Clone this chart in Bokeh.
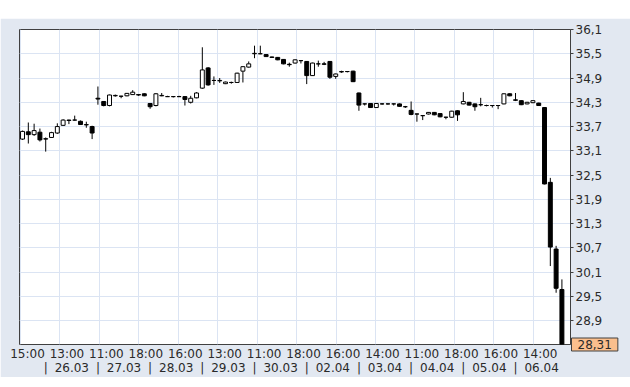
from bokeh.plotting import figure
from bokeh.models import (LinearAxis, FixedTicker, CustomJSTickFormatter, Label,
                          Spacer, Range1d, ColumnDataSource)
from bokeh.layouts import column
from bokeh.embed import file_html
from bokeh.resources import INLINE

# ---------------- data ----------------
time_labels = ["15:00", "13:00", "11:00", "18:00", "16:00", "13:00", "11:00",
               "18:00", "16:00", "14:00", "11:00", "18:00", "16:00", "14:00"]
date_labels = ["26.03", "27.03", "28.03", "29.03", "30.03",
               "02.04", "03.04", "04.04", "05.04", "06.04"]
y_ticks = [28.9, 29.5, 30.1, 30.7, 31.3, 31.9, 32.5, 33.1, 33.7, 34.3, 34.9, 35.5, 36.1]

opens = [33.39, 33.57, 33.50, 33.56, 33.39, 33.43, 33.54, 33.73, 33.86, 33.86,
         33.83, 33.74, 33.70, 34.40, 34.32, 34.22, 34.46, 34.45, 34.46, 34.49,
         34.49, 34.51, 34.27, 34.22, 34.46, 34.44, 34.44, 34.44, 34.44, 34.30,
         34.41, 34.65, 35.15, 34.84, 34.83, 34.76, 34.79, 34.79, 35.07, 35.17,
         35.50, 35.50, 35.48, 35.42, 35.41, 35.36, 35.24, 35.27, 35.33, 35.31,
         34.96, 35.25, 35.25, 35.31, 34.94, 35.05, 35.06, 35.07, 34.53, 34.26,
         34.27, 34.17, 34.26, 34.26, 34.26, 34.26, 34.19, 34.10, 34.01, 33.97,
         34.01, 34.05, 34.02, 33.93, 33.93, 34.09, 34.26, 34.30, 34.26, 34.24,
         34.22, 34.22, 34.22, 34.26, 34.51, 34.36, 34.34, 34.26, 34.29, 34.28,
         34.17, 32.32, 30.67, 29.67]
highs = [33.60, 33.80, 33.77, 33.65, 33.43, 33.57, 33.78, 33.88, 33.87, 33.97,
         33.85, 33.82, 33.72, 34.69, 34.33, 34.49, 34.49, 34.46, 34.53, 34.60,
         34.50, 34.52, 34.28, 34.53, 34.53, 34.46, 34.45, 34.46, 34.45, 34.46,
         34.55, 35.66, 35.17, 34.94, 34.90, 34.81, 34.81, 35.03, 35.19, 35.31,
         35.70, 35.70, 35.49, 35.43, 35.42, 35.37, 35.28, 35.36, 35.34, 35.32,
         35.28, 35.33, 35.30, 35.32, 35.01, 35.08, 35.07, 35.08, 34.54, 34.27,
         34.28, 34.28, 34.28, 34.27, 34.27, 34.27, 34.21, 34.32, 34.02, 33.98,
         34.06, 34.06, 34.03, 33.94, 34.09, 34.10, 34.55, 34.31, 34.27, 34.41,
         34.24, 34.23, 34.23, 34.52, 34.52, 34.53, 34.35, 34.31, 34.35, 34.29,
         34.18, 32.43, 30.75, 29.92]
lows = [33.37, 33.28, 33.47, 33.33, 33.08, 33.42, 33.52, 33.72, 33.76, 33.85,
        33.74, 33.67, 33.39, 34.24, 34.20, 34.20, 34.44, 34.40, 34.45, 34.48,
        34.46, 34.45, 34.14, 34.20, 34.45, 34.43, 34.42, 34.43, 34.22, 34.27,
        34.40, 34.63, 34.71, 34.73, 34.78, 34.75, 34.76, 34.78, 34.79, 35.16,
        35.39, 35.49, 35.42, 35.40, 35.34, 35.24, 35.18, 35.26, 35.26, 34.75,
        34.95, 35.18, 35.22, 34.88, 34.88, 35.03, 35.04, 34.80, 34.09, 34.22,
        34.16, 34.16, 34.24, 34.24, 34.22, 34.19, 34.16, 33.98, 33.82, 33.86,
        34.00, 33.98, 33.93, 33.88, 33.92, 33.84, 34.25, 34.22, 34.09, 34.20,
        34.20, 34.17, 34.13, 34.25, 34.45, 34.33, 34.23, 34.25, 34.28, 34.21,
        32.27, 30.25, 29.59, 28.31]
closes = [33.58, 33.50, 33.60, 33.37, 33.40, 33.55, 33.70, 33.86, 33.85, 33.86,
          33.75, 33.75, 33.54, 34.38, 34.22, 34.48, 34.47, 34.45, 34.52, 34.55,
          34.48, 34.46, 34.19, 34.51, 34.47, 34.44, 34.44, 34.44, 34.37, 34.40,
          34.53, 35.10, 34.73, 34.84, 34.84, 34.80, 34.79, 35.02, 35.18, 35.25,
          35.51, 35.50, 35.43, 35.41, 35.35, 35.25, 35.23, 35.35, 35.33, 34.96,
          35.27, 35.25, 35.24, 34.92, 35.00, 35.06, 35.06, 34.81, 34.23, 34.26,
          34.17, 34.27, 34.26, 34.26, 34.26, 34.20, 34.19, 34.00, 34.01, 33.97,
          34.05, 33.99, 33.94, 33.93, 34.08, 33.99, 34.32, 34.23, 34.19, 34.24,
          34.22, 34.22, 34.22, 34.51, 34.46, 34.35, 34.24, 34.30, 34.34, 34.22,
          32.28, 30.72, 29.70, 28.31]

# ---------------- layout constants ----------------
BARS_PER_DAY = 9
FIRST_DAY_START = 4          # first bar of 26.03
GRID_STEP = 6.8              # bars between vertical grid lines
GRID_START = -0.34
LABEL_SHIFT = 1.2
X_START, X_END = -0.52, 94.48
Y_MIN, Y_MAX = 28.31, 36.1

n = len(opens)
xs = list(range(n))
src = ColumnDataSource(dict(
    x=xs, h=highs, l=lows,
    top=[max(o, c) for o, c in zip(opens, closes)],
    bottom=[min(o, c) for o, c in zip(opens, closes)],
    fill=["white" if c >= o else "black" for o, c in zip(opens, closes)],
))

grid_ticks = [GRID_START + GRID_STEP * i for i in range(len(time_labels))]
label_ticks = [g + LABEL_SHIFT for g in grid_ticks]
sep_ticks = [FIRST_DAY_START + BARS_PER_DAY * k for k in range(len(date_labels))]
date_ticks = [s + BARS_PER_DAY / 2 for s in sep_ticks]

BG = "#e2e8f1"
GRID = "#dbe4f3"
DARK = "#404040"
TXT = "#2a2a2a"
FONT = "DejaVu Sans"

p = figure(width=630, height=353, frame_width=551, frame_height=315,
           x_range=Range1d(X_START, X_END), y_range=Range1d(Y_MIN, Y_MAX),
           y_axis_location="right", output_backend="svg", toolbar_location=None,
           min_border_left=19, min_border_top=11, min_border_right=60,
           min_border_bottom=0)
p.border_fill_color = BG
p.background_fill_color = "white"
p.outline_line_color = DARK
p.outline_line_width = 1

p.xgrid.ticker = FixedTicker(ticks=grid_ticks)
p.ygrid.ticker = FixedTicker(ticks=y_ticks)
p.xgrid.grid_line_color = GRID
p.ygrid.grid_line_color = GRID

p.segment(x0="x", y0="h", x1="x", y1="l", line_color="black", line_width=1, source=src)
p.vbar(x="x", width=0.68, top="top", bottom="bottom", fill_color="fill",
       line_color="black", line_width=1, source=src)

lookup_code = """
const i = tpos.findIndex(t => Math.abs(t - tick) < 1e-6);
return i >= 0 ? labs[i] : '';
"""

# time row
xa = p.xaxis[0]
xa.ticker = FixedTicker(ticks=label_ticks)
xa.formatter = CustomJSTickFormatter(args=dict(tpos=label_ticks, labs=time_labels), code=lookup_code)
xa.axis_line_color = None
xa.major_tick_out = 0
xa.major_tick_in = 0
xa.minor_tick_line_color = None
xa.major_label_standoff = 2
xa.major_label_text_font = FONT
xa.major_label_text_font_size = "12px"
xa.major_label_text_color = TXT

# date row
d_ticks = sep_ticks + date_ticks
d_labels = ["|"] * len(sep_ticks) + date_labels
da = LinearAxis(ticker=FixedTicker(ticks=d_ticks),
                formatter=CustomJSTickFormatter(args=dict(tpos=d_ticks, labs=d_labels), code=lookup_code))
da.axis_line_color = None
da.major_tick_out = 0
da.major_tick_in = 0
da.minor_tick_line_color = None
da.major_label_standoff = -3
da.major_label_text_font = FONT
da.major_label_text_font_size = "12px"
da.major_label_text_color = TXT
p.add_layout(da, "below")

# price axis
ya = p.yaxis[0]
ya.ticker = FixedTicker(ticks=y_ticks)
ya.formatter = CustomJSTickFormatter(code="return tick.toFixed(1).replace('.', ',');")
ya.axis_line_color = DARK
ya.major_tick_out = 3
ya.major_tick_in = 0
ya.major_tick_line_color = DARK
ya.minor_tick_line_color = None
ya.major_label_standoff = 2
ya.major_label_text_font = FONT
ya.major_label_text_font_size = "12px"
ya.major_label_text_color = TXT

# last-price marker (placed in the right side panel so it is not clipped)
last = closes[-1]
last_text = f"{last:.2f}".replace(".", ",")
lbl = Label(x=X_END, y=last, x_offset=1, text=last_text,
            text_baseline="middle", text_align="left", text_font=FONT,
            text_font_size="12px", text_color=TXT,
            background_fill_color="#fbbf8d", border_line_color=DARK,
            padding=(6, 2))
p.add_layout(lbl, "right")

layout = column(Spacer(width=630, height=18), p)
open("out.html", "w").write(file_html(layout, INLINE))
